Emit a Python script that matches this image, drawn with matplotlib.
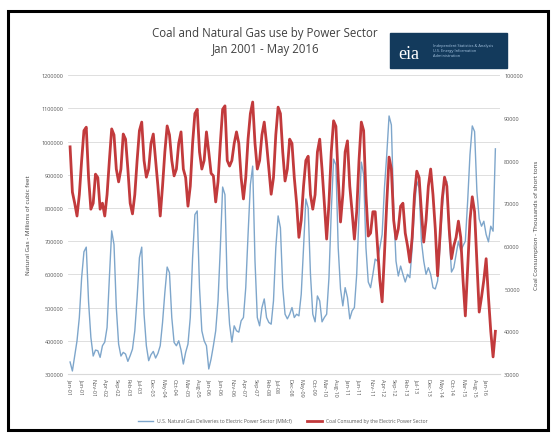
import numpy as np
import pandas as pd
import matplotlib.pyplot as plt
from matplotlib.patches import Rectangle
from matplotlib.ticker import FuncFormatter

plt.rcParams['font.family'] = ['Open Sans', 'DejaVu Sans']

# natural gas deliveries to power sector, thousand MMcf, Jan 2001 - May 2016
gas = [336, 309, 355, 400, 470, 590, 668, 682, 517, 410, 354, 372,
       370, 350, 385, 396, 440, 590, 731, 690, 500, 390, 354, 365,
       360, 338, 355, 375, 430, 530, 650, 682, 480, 385, 340, 358,
       368, 348, 362, 385, 455, 545, 622, 605, 470, 395, 385, 400,
       372, 330, 365, 390, 470, 650, 780, 791, 560, 430, 400, 385,
       315, 345, 385, 430, 520, 680, 863, 840, 560, 450, 396, 445,
       430, 426, 460, 470, 560, 720, 870, 926, 640, 470, 445, 500,
       526, 470, 455, 450, 520, 680, 776, 740, 560, 480, 466, 480,
       500, 470, 480, 475, 540, 680, 827, 800, 600, 480, 457, 535,
       520, 457, 470, 480, 590, 790, 947, 930, 680, 556, 505, 560,
       530, 466, 490, 500, 600, 780, 938, 900, 680, 577, 560, 600,
       646, 640, 680, 720, 860, 960, 1077, 1050, 800, 640, 595, 625,
       600, 577, 600, 590, 680, 800, 880, 860, 700, 640, 600, 620,
       600, 560, 556, 580, 680, 800, 870, 880, 720, 607, 620, 660,
       700, 670, 686, 700, 820, 960, 1047, 1030, 850, 767, 745, 760,
       720, 698, 745, 730, 978]

# coal consumed by power sector, million short tons
coal = [83.2, 72.6, 70.0, 67.0, 72.0, 80.0, 87.0, 87.8, 76.0, 68.6, 70.0, 76.8,
        76.0, 68.6, 70.0, 67.0, 72.0, 80.0, 87.4, 86.0, 78.0, 75.0, 78.0, 86.2,
        85.0, 78.0, 70.0, 67.5, 72.0, 80.0, 87.0, 89.0, 80.0, 76.1, 78.0, 84.0,
        86.2, 80.0, 74.0, 67.0, 74.0, 82.0, 88.1, 86.0, 80.0, 76.4, 78.0, 84.0,
        86.7, 78.0, 76.0, 69.3, 74.0, 84.0, 91.0, 92.0, 82.0, 78.0, 80.0, 86.7,
        82.0, 77.0, 76.4, 70.3, 75.0, 84.0, 92.0, 92.8, 80.0, 78.7, 80.0, 84.0,
        86.7, 84.0, 76.0, 71.0, 76.0, 85.0, 91.0, 93.7, 84.0, 78.0, 80.0, 86.0,
        89.0, 84.0, 78.0, 72.1, 76.0, 86.0, 92.5, 91.0, 82.0, 75.2, 78.0, 85.0,
        84.0, 76.0, 70.0, 62.0, 66.0, 74.0, 80.0, 81.0, 72.0, 68.6, 72.0, 82.0,
        85.0, 78.0, 70.0, 61.6, 70.0, 82.0, 89.3, 88.0, 76.0, 65.6, 72.0, 82.0,
        84.6, 74.0, 68.0, 61.6, 68.0, 80.0, 89.0, 87.0, 72.0, 62.3, 63.0, 68.0,
        68.0, 60.0, 52.0, 46.9, 58.0, 70.0, 80.8, 78.0, 66.0, 61.6, 64.0, 69.3,
        70.0, 63.0, 60.0, 56.2, 62.0, 72.0, 77.5, 76.0, 68.0, 60.9, 66.0, 74.0,
        78.0, 72.0, 64.0, 53.0, 62.0, 71.0, 76.1, 74.0, 64.0, 57.0, 60.0, 62.0,
        65.8, 62.0, 52.0, 43.6, 55.0, 66.0, 71.5, 68.0, 56.0, 44.5, 48.0, 52.0,
        57.0, 48.0, 40.0, 34.0, 40.0]

gas = np.array(gas) * 1000
coal = np.array(coal) * 1000
months = pd.date_range("2001-01-01", periods=len(gas), freq="MS")
x = np.arange(len(months))
tick_idx = x[::5]
tick_labels = [months[i].strftime("%b-%y") for i in tick_idx]

gas_label = "U.S. Natural Gas Deliveries to Electric Power Sector (MMcf)"
coal_label = "Coal Consumed by the Electric Power Sector"

fig = plt.figure(figsize=(5.56, 4.35), dpi=100)
ax = fig.add_axes([0.1223, 0.138, 0.777, 0.687])
ax2 = ax.twinx()

ax.plot(x, gas, color="#7ea6cb", lw=1.0, label=gas_label)
ax2.plot(x, coal, color="#c23a3c", lw=2.0, label=coal_label)

plain = FuncFormatter(lambda v, p: f"{v:.0f}")
ax.set_ylim(300000, 1200000)
ax.set_yticks(np.arange(300000, 1200001, 100000))
ax.yaxis.set_major_formatter(plain)
ax2.set_ylim(30000, 100000)
ax2.set_yticks(np.arange(30000, 100001, 10000))
ax2.yaxis.set_major_formatter(plain)
ax.set_xlim(-0.9, 186)
ax.set_xticks(tick_idx)
ax.set_xticklabels(tick_labels, rotation=270, fontsize=4, color="#595959")
ax.grid(axis="y", color="#d9d9d9", lw=0.6)
ax.set_axisbelow(True)
for a in (ax, ax2):
    for s in a.spines.values():
        s.set_visible(False)
    a.tick_params(length=0, labelsize=4, colors="#595959", pad=3)
ax.spines["bottom"].set_visible(True)
ax.spines["bottom"].set_color("#d9d9d9")

ax.set_ylabel("Natural Gas - Millions of cubic feet", fontsize=4.5, color="#404040", labelpad=8)
ax2.set_ylabel("Coal Consumption - Thousands of short tons", fontsize=4.5, color="#404040",
               labelpad=8)

fig.text(0.477, 0.905, "Coal and Natural Gas use by Power Sector\nJan 2001 - May 2016",
         ha="center", va="center", fontsize=8.3, color="#404040", linespacing=1.35)

# eia logo box
fig.patches.append(Rectangle((0.701, 0.841), 0.211, 0.081, transform=fig.transFigure,
                             color="#133a5c", zorder=5))
fig.text(0.735, 0.875, "eia", fontsize=13, color="white", ha="center", va="center",
         family="Liberation Serif", zorder=6)
fig.text(0.778, 0.882, "Independent Statistics & Analysis\nU.S. Energy Information\nAdministration",
         fontsize=2.8, color="#a9c7e4", ha="left", va="center", zorder=6, linespacing=1.3)

# outer frame
fig.patches.append(Rectangle((0.015, 0.01), 0.97, 0.962, transform=fig.transFigure,
                             fill=False, edgecolor="black", lw=2.2, zorder=10))

h1, l1 = ax.get_legend_handles_labels()
h2, l2 = ax2.get_legend_handles_labels()
fig.legend(h1 + h2, l1 + l2, loc="center", bbox_to_anchor=(0.509, 0.03), ncol=2,
           frameon=False, fontsize=3.6, labelcolor="#595959", handlelength=3,
           columnspacing=3)

fig.savefig("out.png", dpi=100)
